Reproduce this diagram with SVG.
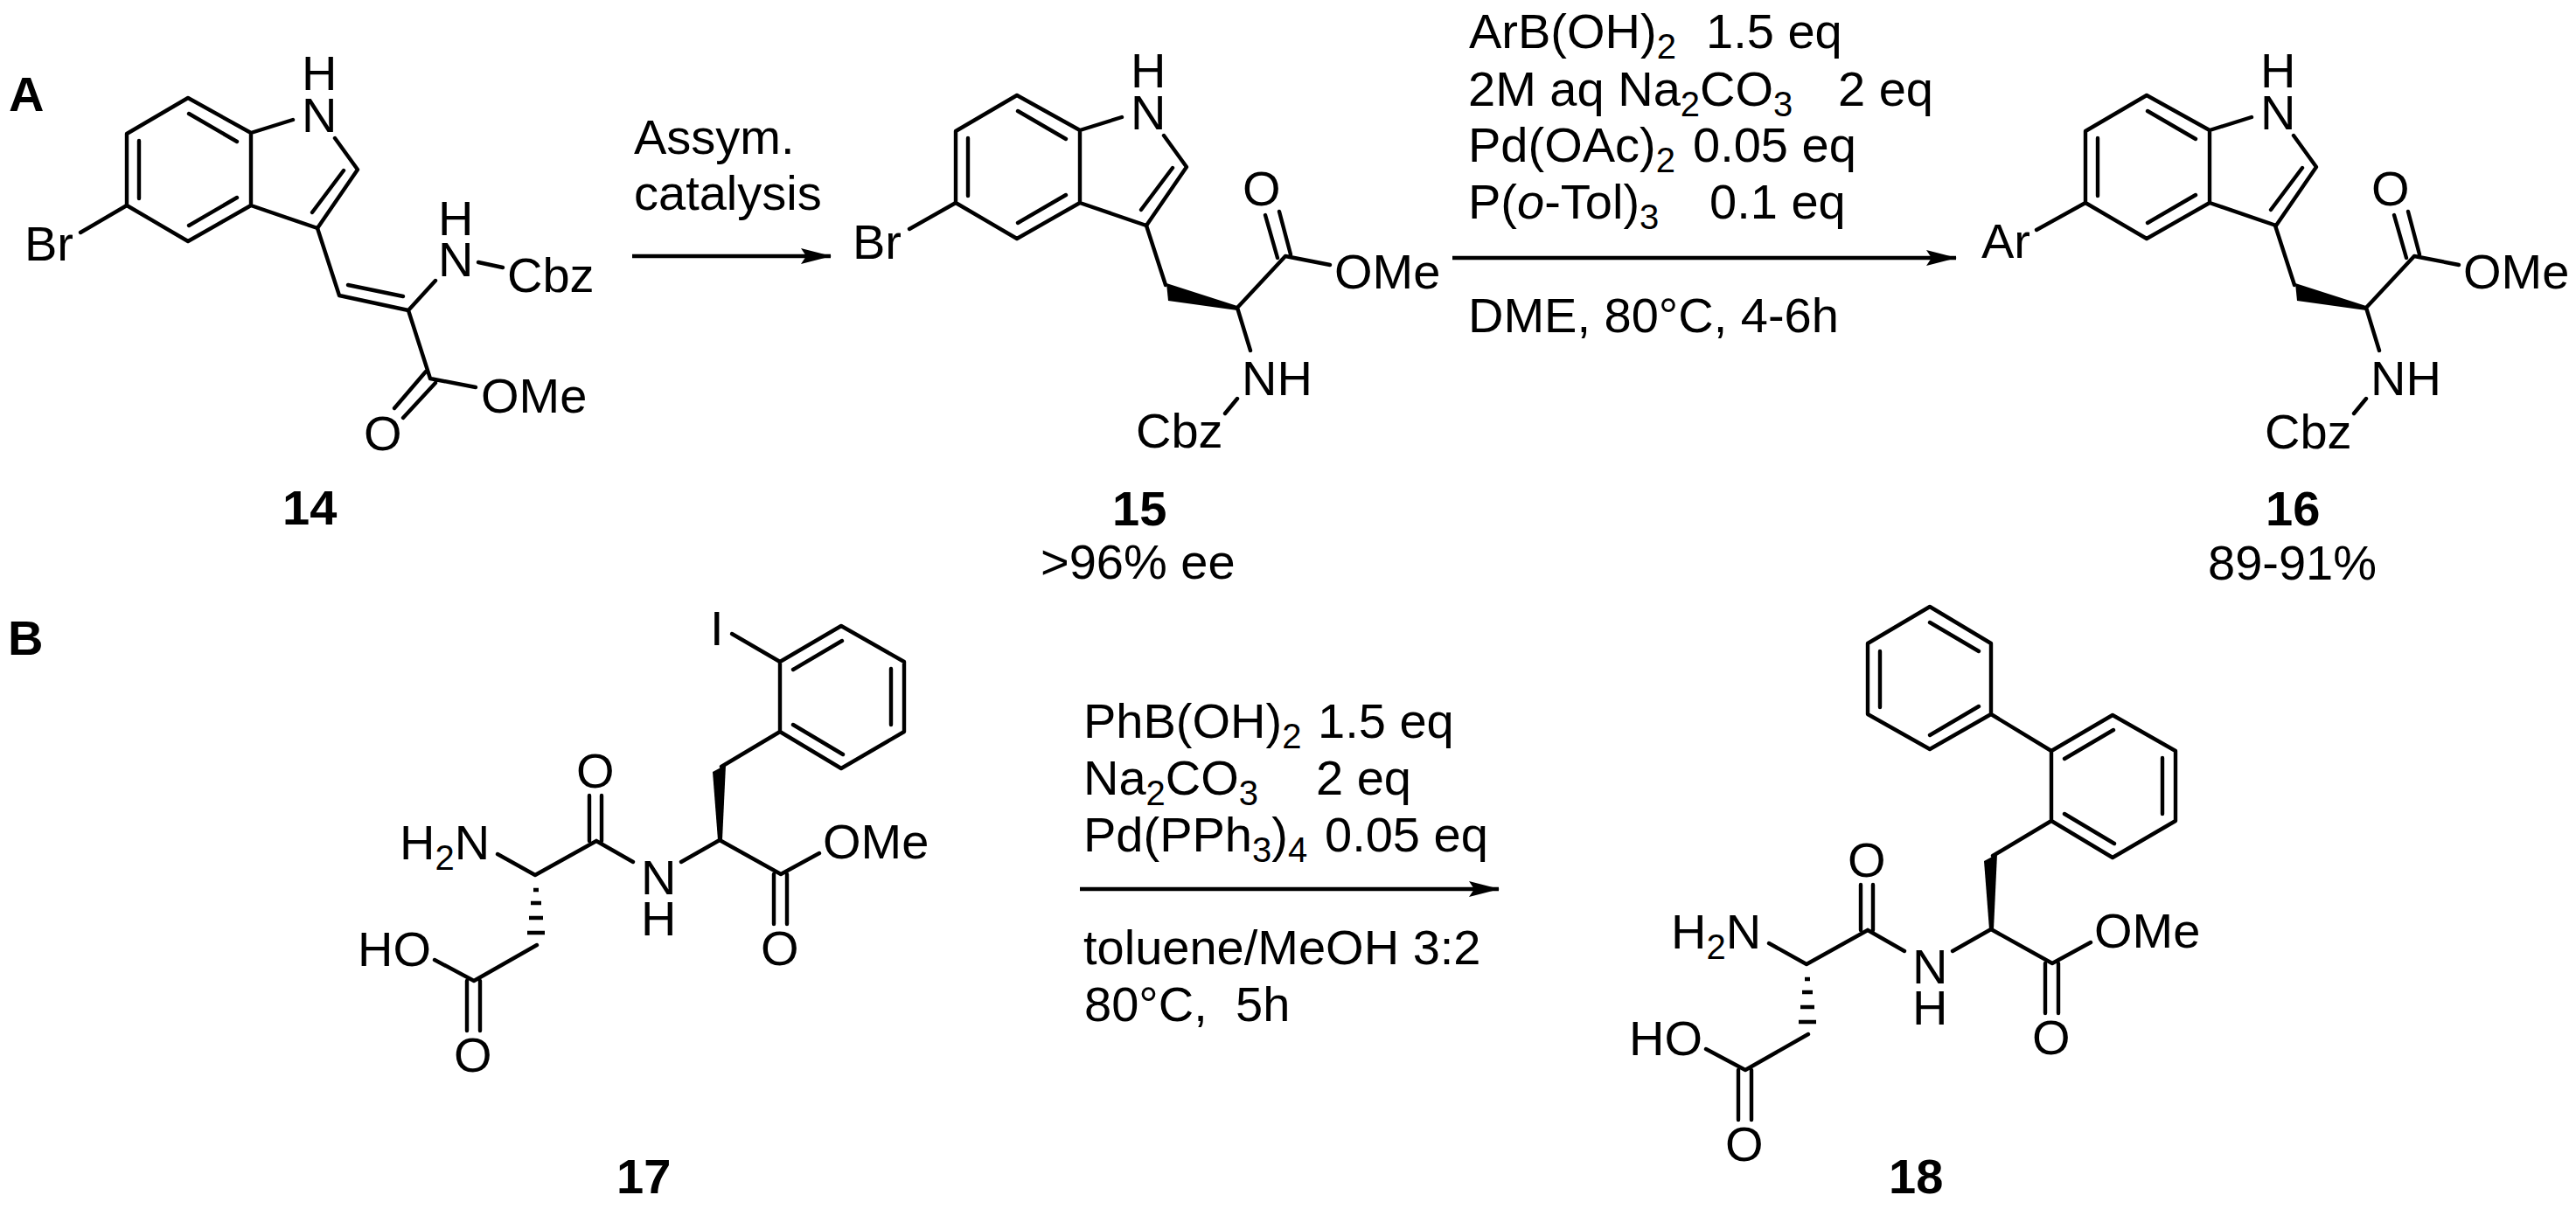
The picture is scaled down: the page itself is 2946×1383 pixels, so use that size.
<svg xmlns="http://www.w3.org/2000/svg" width="2946" height="1383" viewBox="0 0 2946 1383">
<style>
text{font-family:"Liberation Sans",Arial,sans-serif;font-size:56px;fill:#000}
.b{font-weight:bold}
.s{font-size:40px}
.bond{fill:none;stroke:#000;stroke-width:4.4;stroke-linecap:round;stroke-linejoin:round}
.hash{fill:none;stroke:#000;stroke-width:4.4}
.arrow{fill:none;stroke:#000;stroke-width:4.4;marker-end:url(#ah)}
</style>
<defs>
<marker id="ah" markerUnits="userSpaceOnUse" markerWidth="40" markerHeight="24" refX="34" refY="12" orient="auto">
<path d="M0 3L35 12L0 21L6 12Z" fill="#000"/>
</marker>
<g id="indole">
<path class="bond" d="M287 152L215 112L145 153V235L215 276L287 235ZM216 130L271 162M159 161V227M216 258L271 226M287 152L335 137M383 158L409 194L363 261L287 235M393 195L357 243"/>
</g>
<g id="chain">
<path class="bond" d="M1311 258L1333 326M1415 352L1470 293M1463 242L1476 291M1447 246L1461 295M1470 293L1521 303M1415 352L1430 401M1415 456L1401 473"/>
<path d="M1415 350L1334 324L1336 344L1415 355Z" fill="#000"/>
</g>
<g id="peptide">
<path class="bond" d="M892 757L962 716L1034 757V837L962 879L892 837ZM907 766L963 733M1019 765V829M907 829L964 863M892 837L825 877M823 961L893 1000M893 1000L937 976M885 1000V1057M900 1000V1057M779 986L823 961M724 986L682 962M674 962V910M688 962V910M612 1001L682 962M612 1001L569 977M614 1081L542 1122M542 1122L497 1098M534 1122V1179M549 1122V1179"/>
<path d="M815 883L830 875L826 961L821 961Z" fill="#000"/>
<path class="hash" d="M610 1018H616M607 1033H619M605 1050H621M603 1067H623"/>
</g>
</defs>
<rect width="2946" height="1383" fill="#fff"/>
<g id="connectors">
<path class="arrow" d="M723 293H950"/>
<path class="arrow" d="M1661 295H2237"/>
<path class="arrow" d="M1235 1017H1714"/>
</g>
<g id="label-A"><text class="b" x="10" y="127">A</text></g>
<g id="label-B"><text class="b" x="9" y="749">B</text></g>
<g id="compound-14">
<use href="#indole"/>
<path class="bond" d="M145 235L92 266M363 261L388 338L467 355M398 326L461 339M467 355L498 321M547 300L575 306M467 355L492 433M487 425L451 467M498 438L461 478M492 433L544 443"/>
<text x="345" y="151">N</text>
<text x="345" y="103">H</text>
<text x="28" y="298">Br</text>
<text x="501" y="316">N</text>
<text x="501" y="269">H</text>
<text x="580" y="334">Cbz</text>
<text x="550" y="472">OMe</text>
<text x="416" y="515">O</text>
<text class="b" x="323" y="600">14</text>
</g>
<g id="reagents-1"><text x="725" y="176">Assym.</text><text x="725" y="240">catalysis</text></g>
<g id="compound-15">
<use href="#indole" x="948" y="-3"/>
<use href="#chain"/>
<path class="bond" d="M1093 232L1040 262"/>
<text x="1293" y="148">N</text>
<text x="1293" y="100">H</text>
<text x="975" y="296">Br</text>
<text x="1421" y="235">O</text>
<text x="1526" y="330">OMe</text>
<text x="1420" y="452">NH</text>
<text x="1299" y="512">Cbz</text>
<text class="b" x="1272" y="601">15</text>
<text x="1190" y="662">&gt;96% ee</text>
</g>
<g id="reagents-2">
<text x="1680" y="55">ArB(OH)<tspan class="s" dy="12">2</tspan><tspan x="1951" dy="-12">1.5 eq</tspan></text>
<text x="1679" y="121">2M aq Na<tspan class="s" dy="12">2</tspan><tspan dy="-12">CO</tspan><tspan class="s" dy="12">3</tspan><tspan x="2102" dy="-12">2 eq</tspan></text>
<text x="1679" y="185">Pd(OAc)<tspan class="s" dy="12">2</tspan><tspan x="1936" dy="-12">0.05 eq</tspan></text>
<text x="1679" y="250">P(<tspan font-style="italic">o</tspan>-Tol)<tspan class="s" dy="12">3</tspan><tspan x="1955" dy="-12">0.1 eq</tspan></text>
<text x="1679" y="380">DME, 80°C, 4-6h</text>
</g>
<g id="compound-16">
<use href="#indole" x="2240" y="-3"/>
<use href="#chain" x="1291"/>
<path class="bond" d="M2385 232L2329 263"/>
<text x="2585" y="148">N</text>
<text x="2585" y="100">H</text>
<text x="2266" y="295">Ar</text>
<text x="2712" y="235">O</text>
<text x="2817" y="330">OMe</text>
<text x="2711" y="452">NH</text>
<text x="2590" y="513">Cbz</text>
<text class="b" x="2591" y="601">16</text>
<text x="2525" y="663">89-91%</text>
</g>
<g id="compound-17">
<use href="#peptide"/>
<path class="bond" d="M837 725L892 757"/>
<text x="812" y="738">I</text>
<text x="941" y="982">OMe</text>
<text x="870" y="1104">O</text>
<text x="733" y="1023">N</text>
<text x="733" y="1070">H</text>
<text x="659" y="901">O</text>
<text x="457" y="983">H<tspan class="s" dy="12">2</tspan><tspan dy="-12">N</tspan></text>
<text x="409" y="1105">HO</text>
<text x="519" y="1226">O</text>
<text class="b" x="705" y="1365">17</text>
</g>
<g id="reagents-3">
<text x="1239" y="844">PhB(OH)<tspan class="s" dy="12">2</tspan><tspan x="1507" dy="-12">1.5 eq</tspan></text>
<text x="1239" y="909">Na<tspan class="s" dy="12">2</tspan><tspan dy="-12">CO</tspan><tspan class="s" dy="12">3</tspan><tspan x="1505" dy="-12">2 eq</tspan></text>
<text x="1239" y="974">Pd(PPh<tspan class="s" dy="12">3</tspan><tspan dy="-12">)</tspan><tspan class="s" dy="12">4</tspan><tspan x="1515" dy="-12">0.05 eq</tspan></text>
<text x="1239" y="1103">toluene/MeOH 3:2</text>
<text x="1240" y="1168">80°C,<tspan x="1413">5h</tspan></text>
</g>
<g id="compound-18">
<use href="#peptide" x="1454" y="102"/>
<path class="bond" d="M2346 859L2277 817V736L2207 694L2136 736V817L2207 857L2277 817M2263 745L2207 712M2150 745V809M2207 841L2263 808"/>
<text x="2395" y="1084">OMe</text>
<text x="2324" y="1206">O</text>
<text x="2187" y="1125">N</text>
<text x="2187" y="1172">H</text>
<text x="2113" y="1003">O</text>
<text x="1911" y="1085">H<tspan class="s" dy="12">2</tspan><tspan dy="-12">N</tspan></text>
<text x="1863" y="1207">HO</text>
<text x="1973" y="1328">O</text>
<text class="b" x="2160" y="1365">18</text>
</g>
</svg>
